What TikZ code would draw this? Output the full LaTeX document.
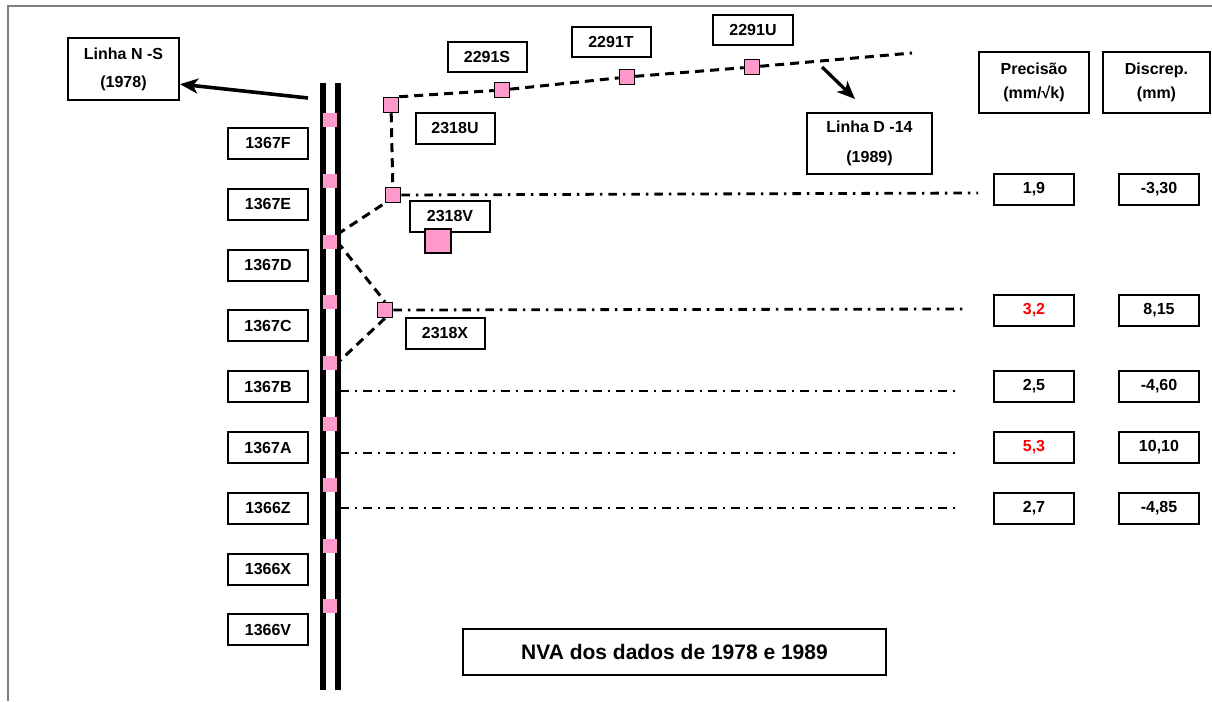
\documentclass[tikz,border=0pt]{standalone}
\usepackage{fontspec}
\setmainfont{Liberation Sans}
\usetikzlibrary{arrows.meta}
\definecolor{pinkfill}{HTML}{FF99CC}
\definecolor{framegray}{HTML}{7F7F7F}
\definecolor{redtxt}{HTML}{FF0000}
\pgfdeclarelayer{background}
\pgfsetlayers{background,main}
\begin{document}
\begin{tikzpicture}[x=1pt,y=-1pt,
  lbl/.style={draw, line width=2pt, minimum width=80pt, minimum height=31pt, inner sep=0pt,
    fill=white, font=\fontsize{16}{19}\selectfont\bfseries},
  bigbox/.style={draw, line width=2pt, inner sep=0pt, align=center, fill=white},
  sq/.style={draw, line width=1.5pt, fill=pinkfill, minimum size=15pt, inner sep=0pt},
  bigsq/.style={draw, line width=1.5pt, fill=pinkfill, minimum width=26pt, minimum height=24pt, inner sep=0pt},
  railsq/.style={fill=pinkfill, minimum width=14pt, minimum height=14pt, inner sep=0pt},
  rail/.style={line width=6pt},
  dsh/.style={line width=3pt, dash pattern=on 9pt off 6pt},
  dd/.style={line width=2.8pt, dash pattern=on 8.5pt off 6pt on 2.5pt off 6pt},
  arr/.style={line width=3.6pt, -{Stealth[length=18pt,width=15pt,inset=5pt]}},
  frameline/.style={draw=framegray, line width=1.2pt}
]
\useasboundingbox (0,0) rectangle (1212,701);
\draw[frameline] (8,701) -- (8,6) -- (1212,6);

% header boxes
\node[bigbox, minimum width=111pt, minimum height=62pt, font=\fontsize{16}{28}\selectfont\bfseries] (ns) at (123.5,69) {Linha N -S\\(1978)};
\node[bigbox, minimum width=125pt, minimum height=61pt, font=\fontsize{16}{30}\selectfont\bfseries] (d14) at (869.5,143.5) {Linha D -14\\(1989)};
\node[bigbox, minimum width=110pt, minimum height=61pt, font=\fontsize{16}{24}\selectfont\bfseries] (prec) at (1034,82.5) {Precisão\\(mm/√k)};
\node[bigbox, minimum width=107pt, minimum height=61pt, font=\fontsize{16}{24}\selectfont\bfseries] (disc) at (1156.5,82.5) {Discrep.\\(mm)};

% left station labels
\foreach \lab [count=\i from 0] in {1367F,1367E,1367D,1367C,1367B,1367A,1366Z,1366X,1366V}
  \node[lbl] (l\i) at (268,143.5+60.8*\i) {\lab};

% rail squares
\foreach \i in {0,...,8}
  \node[railsq] (r\i) at (330,120+60.8*\i) {};

% station squares off the rail
\node[sq] (qU) at (391,105) {};
\node[sq] (qS) at (502,90) {};
\node[sq] (qT) at (627,77) {};
\node[sq] (qW) at (752,67) {};
\node[sq] (qV) at (393,195) {};
\node[sq] (qX) at (385,310) {};

% top labels
\node[lbl, minimum width=79pt, minimum height=30pt] (tS) at (487,57) {2291S};
\node[lbl, minimum width=79pt, minimum height=30pt] (tT) at (611,42) {2291T};
\node[lbl, minimum width=80pt, minimum height=30pt] (tW) at (753,30) {2291U};
\node[lbl, minimum width=79pt] (tU) at (455,128) {2318U};
\node[lbl] (tV) at (450,216) {2318V};
\node[lbl, minimum width=79pt] (tX) at (445,333) {2318X};
\node[bigsq] (bigq) at (438,241) {};

% value boxes
\node[lbl] (p1) at (1034,189) {1,9};
\node[lbl] (p2) at (1034,310.5) {\textcolor{redtxt}{3,2}};
\node[lbl] (p3) at (1034,386.5) {2,5};
\node[lbl] (p4) at (1034,447.5) {\textcolor{redtxt}{5,3}};
\node[lbl] (p5) at (1034,508) {2,7};
\node[lbl] (v1) at (1159,189) {-3,30};
\node[lbl] (v2) at (1159,310.5) {8,15};
\node[lbl] (v3) at (1159,386.5) {-4,60};
\node[lbl] (v4) at (1159,447.5) {10,10};
\node[lbl] (v5) at (1159,508) {-4,85};

% title
\node[draw, line width=2pt, minimum width=423pt, minimum height=46pt, inner sep=0pt,
  font=\fontsize{21}{25}\selectfont\bfseries] (title) at (674.5,652) {NVA dos dados de 1978 e 1989};

% free ends
\coordinate (dend) at (912,53);
\coordinate (nsfrom) at (308,98);
\coordinate (dfrom) at (822,67);
\coordinate (dto) at (855,99);
\coordinate (eV) at (978,193);
\coordinate (eX) at (968,309);
\coordinate (sB) at (340,391);
\coordinate (eB) at (960,391);
\coordinate (sA) at (340,453);
\coordinate (eA) at (960,453);
\coordinate (sZ) at (340,508);
\coordinate (eZ) at (960,508);

\begin{pgfonlayer}{background}
  \draw[rail] (322.5,83) -- (322.5,690);
  \draw[rail] (337.5,83) -- (337.5,690);
  \draw[dsh] (qU.north east) -- (qS) -- (qT) -- (qW) -- (dend);
  \draw[dsh] (qU) -- (qV);
  \draw[dsh] (r2.north east) -- (qV.south west);
  \draw[dsh] (r2.east) -- (qX.north);
  \draw[dsh] (qX.south) -- (r4.east);
  \draw[dd] (qV.east) -- (eV);
  \draw[dd] (qX.east) -- (eX);
  \draw[dd] (sB) -- (eB);
  \draw[dd] (sA) -- (eA);
  \draw[dd] (sZ) -- (eZ);
\end{pgfonlayer}

\draw[arr] (nsfrom) -- (ns.-15);
\draw[arr, line width=3.3pt] (dfrom) -- (dto);
\end{tikzpicture}
\end{document}
